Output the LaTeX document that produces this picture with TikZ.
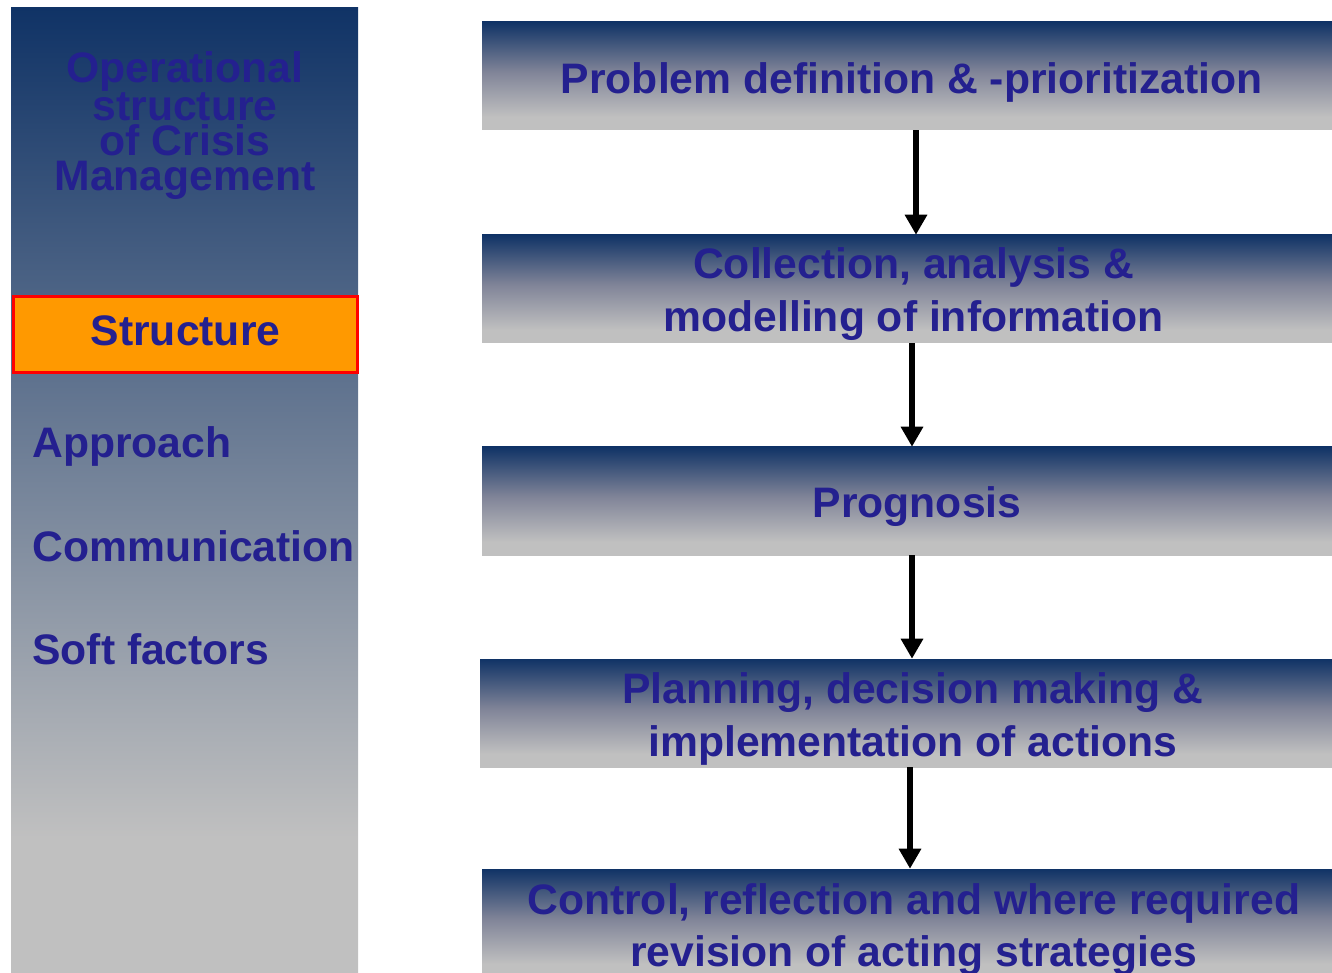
\documentclass[tikz,border=0pt]{standalone}
\usepackage{fontspec}
\setmainfont{Liberation Sans}
\usetikzlibrary{arrows.meta}
\definecolor{navy}{RGB}{16,51,102}
\definecolor{silv}{RGB}{192,192,192}
\definecolor{midg}{RGB}{128,132,152}
\definecolor{txtblue}{RGB}{36,32,143}
\definecolor{orng}{RGB}{255,153,0}
\pgfdeclareverticalshading{boxshade}{100bp}{color(0bp)=(silv); color(31bp)=(silv); color(52bp)=(midg); color(75bp)=(navy); color(100bp)=(navy)}
\pgfdeclareverticalshading{leftshade}{100bp}{color(0bp)=(silv); color(32bp)=(silv); color(75bp)=(navy); color(100bp)=(navy)}
\tikzset{
  stagebox/.style={shade, shading=boxshade, minimum width=637.5pt, minimum height=81pt, inner sep=0pt},
  stagetext/.style={inner sep=0pt, text=txtblue, font=\bfseries\fontsize{32}{39.5}\selectfont, align=center},
  menuitem/.style={anchor=west, inner sep=0pt, text=txtblue, font=\bfseries\fontsize{32}{36}\selectfont},
  flowarrow/.style={line width=4.5pt, -{Triangle[length=15pt, width=16pt]}}
}
\begin{document}
\begin{tikzpicture}[x=0.75pt, y=-0.75pt]
\useasboundingbox (0,0) rectangle (1332,973);
% left panel
\shade[shading=leftshade] (11,8) rectangle (358,973);
\node[text=txtblue, align=center, inner sep=0pt, font=\bfseries\fontsize{32}{26.25}\selectfont] (title) at (185,126) {Operational\\structure\\of Crisis\\Management};
\node[draw=red, line width=2.4pt, fill=orng, minimum width=258pt, minimum height=57pt, inner sep=0pt] (structure) at (185.5,334.5) {};
\node[text=txtblue, inner sep=0pt, font=\bfseries\fontsize{32}{36}\selectfont] (structuretext) at (185.5,331) {Structure};
\node[menuitem] (approach) at (32,446) {Approach};
\node[menuitem] (communication) at (32,546) {Communication};
\node[menuitem] (soft) at (32,649) {Soft factors};
% right flow
\node[stagebox] (b1) at (907,76) {};
\node[stagebox] (b2) at (907,289) {};
\node[stagebox] (b3) at (907,501) {};
\node[stagebox, minimum width=639pt] (b4) at (906,713) {};
\node[stagebox] (b5) at (907,923) {};
\node[stagetext] (t1) at ([xshift=3.5pt,yshift=-4.5pt]b1.center) {Problem definition \& -prioritization};
\node[stagetext] (t2) at ([xshift=5pt,yshift=-4pt]b2.center) {Collection, analysis \&\\ modelling of information};
\node[stagetext] (t3) at ([xshift=7.5pt,yshift=-4.5pt]b3.center) {Prognosis};
\node[stagetext] (t4) at ([xshift=5pt,yshift=-4.5pt]b4.center) {Planning, decision making \&\\ implementation of actions};
\node[stagetext] (t5) at ([xshift=5pt,yshift=-5pt]b5.center) {Control, reflection and where required\\ revision of acting strategies};
\draw[flowarrow] ([xshift=6.75pt]b1.south) -- ([xshift=6.75pt]b2.north);
\draw[flowarrow] ([xshift=3.75pt]b2.south) -- ([xshift=3.75pt]b3.north);
\draw[flowarrow] ([xshift=3.75pt]b3.south) -- ([xshift=4.5pt]b4.north);
\draw[flowarrow] ([xshift=3pt]b4.south) -- ([xshift=2.25pt]b5.north);
\end{tikzpicture}
\end{document}
